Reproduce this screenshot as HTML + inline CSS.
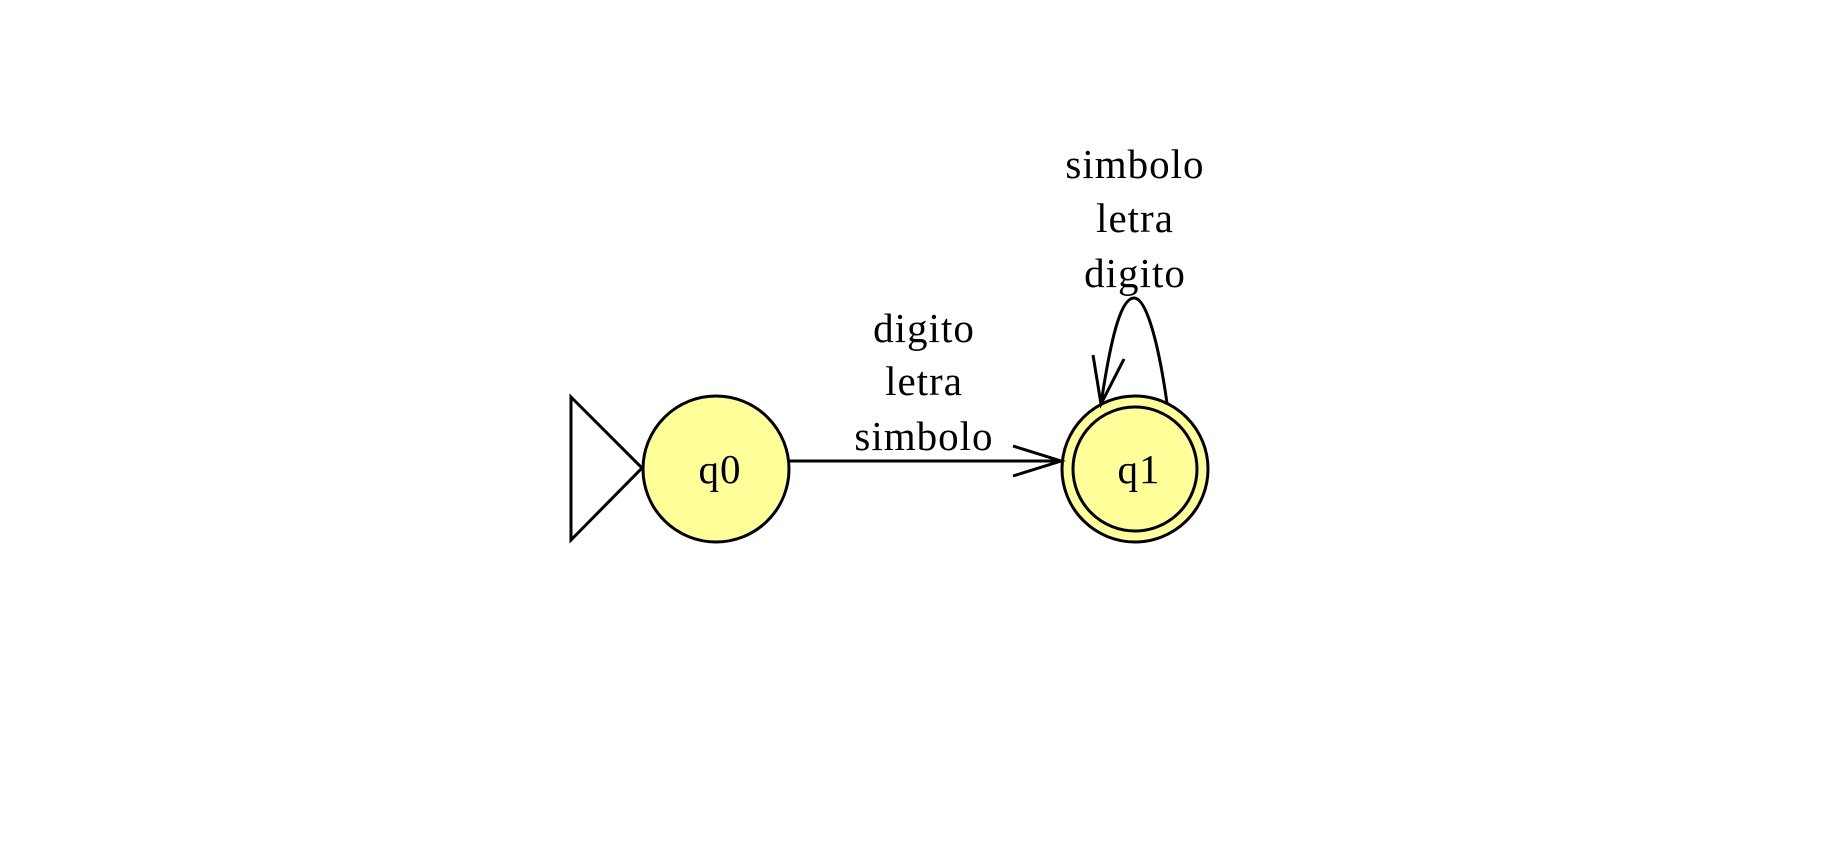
<!DOCTYPE html>
<html><head><meta charset="utf-8"><style>
html,body{margin:0;padding:0;background:#fff;}
svg{display:block;}
text{font-family:"Liberation Serif","DejaVu Serif",serif;font-size:41px;letter-spacing:1px;fill:#000;text-anchor:middle;}
</style></head><body>
<svg width="1827" height="846" viewBox="0 0 1827 846">
  <polygon points="571,397 642,468 571,540" fill="#fff" stroke="#000" stroke-width="3"/>
  <circle cx="716" cy="469" r="73" fill="#ffff99" stroke="#000" stroke-width="3"/>
  <text x="720" y="483">q0</text>
  <circle cx="1135" cy="469" r="73" fill="#ffff99" stroke="#000" stroke-width="3"/>
  <circle cx="1135" cy="469" r="62" fill="#ffff99" stroke="#000" stroke-width="3"/>
  <text x="1139" y="483">q1</text>
  <g fill="none" stroke="#000" stroke-width="3">
    <line x1="789" y1="461" x2="1061" y2="461"/>
    <polyline points="1013,446 1061,461 1013,476"/>
  </g>
  <g>
    <text x="924" y="342">digito</text>
    <text x="924" y="395">letra</text>
    <text x="924" y="450">simbolo</text>
  </g>
  <g fill="none" stroke="#000" stroke-width="3">
    <path d="M1101,404 C1112,330 1122,298 1134,298 C1146,298 1158,340 1167,403"/>
    <polyline points="1093,355 1101,404 1124,359"/>
  </g>
  <g>
    <text x="1135" y="178">simbolo</text>
    <text x="1135" y="232">letra</text>
    <text x="1135" y="287">digito</text>
  </g>
</svg>
</body></html>
